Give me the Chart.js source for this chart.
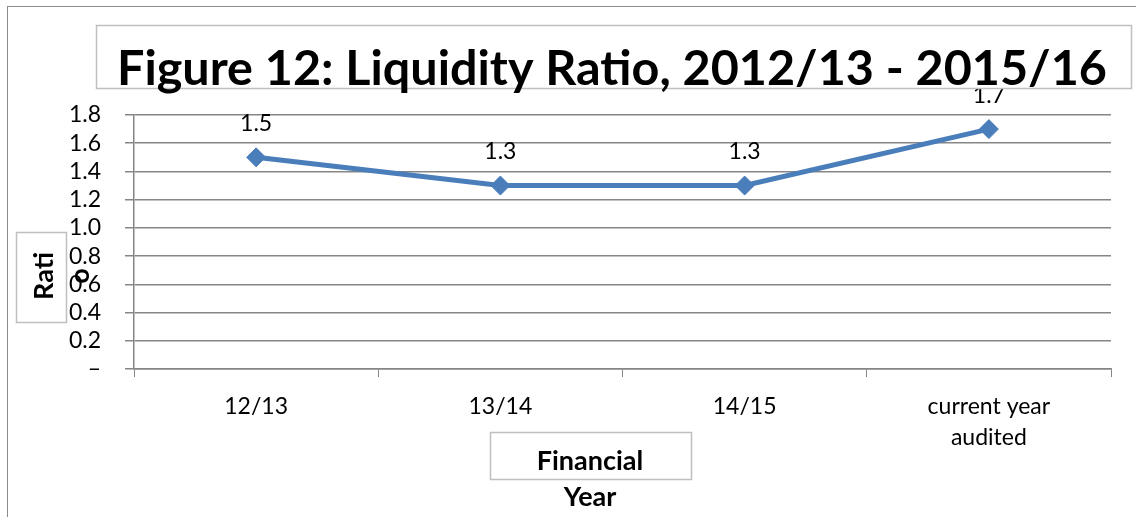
<!DOCTYPE html>
<html>
<head>
<meta charset="utf-8">
<script src="https://cdn.jsdelivr.net/npm/chart.js@4/dist/chart.umd.min.js"></script>
<style>
  html, body { margin: 0; padding: 0; background: #fff; }
  canvas { display: block; }
</style>
</head>
<body>
<canvas id="ratioChart" width="1136" height="517"></canvas>
<script>
const years = ['12/13', '13/14', '14/15', ['current year', 'audited']];
const ratios = [1.5, 1.3, 1.3, 1.7];
const chartTitle = 'Figure 12: Liquidity Ratio, 2012/13 - 2015/16';
const yTitle = ['Rati', 'o'];
const xTitle = ['Financial', 'Year'];

const FONT = 'Lato, "Open Sans", sans-serif';

// boxes, labels and the heading, drawn on top of the plot
const decorations = {
    id: 'decorations',
    afterDatasetsDraw(chart) {
        const ctx = chart.ctx;
        const x = chart.scales.x;
        const y = chart.scales.y;
        ctx.save();
        ctx.fillStyle = '#000';
        ctx.font = '23px ' + FONT;
        ctx.textAlign = 'center';
        ctx.textBaseline = 'middle';
        ratios.forEach((v, i) => {
            const px = x.getPixelForValue(i);
            const py = y.getPixelForValue(v);
            ctx.fillText(v.toFixed(1), px, py - 34);
        });
        ctx.restore();
    },
    afterDraw(chart) {
        const ctx = chart.ctx;
        ctx.save();
        // outer frame
        ctx.strokeStyle = '#8c8c8c';
        ctx.lineWidth = 1;
        ctx.strokeRect(7.5, 6.5, 1200, 600);

        // heading
        ctx.fillStyle = '#fff';
        ctx.fillRect(96, 25, 1035, 63);
        ctx.strokeStyle = '#bfbfbf';
        ctx.lineWidth = 1.5;
        ctx.strokeRect(96.5, 25.5, 1035, 63);
        ctx.fillStyle = '#000';
        ctx.font = 'bold 48.5px ' + FONT;
        ctx.textAlign = 'center';
        ctx.textBaseline = 'alphabetic';
        ctx.fillText(chartTitle, 612, 85);

        // y title
        ctx.fillStyle = '#fff';
        ctx.fillRect(16, 232, 50, 90);
        ctx.strokeRect(16.5, 232.5, 50, 90);
        ctx.fillStyle = '#000';
        ctx.font = 'bold 27px ' + FONT;
        ctx.textBaseline = 'middle';
        ctx.translate(44, 276);
        ctx.rotate(-Math.PI / 2);
        ctx.fillText(yTitle[0], 0, 0);
        ctx.fillText(yTitle[1], 0, 36);
        ctx.setTransform(1, 0, 0, 1, 0, 0);

        // x title
        ctx.fillStyle = '#fff';
        ctx.fillRect(490, 432, 201, 47);
        ctx.strokeRect(490.5, 432.5, 201, 47);
        ctx.fillStyle = '#000';
        ctx.font = 'bold 27px ' + FONT;
        ctx.fillText(xTitle[0], 590, 461);
        ctx.fillText(xTitle[1], 590, 497);
        ctx.restore();
    }
};

new Chart(document.getElementById('ratioChart'), {
    type: 'line',
    data: {
        labels: years,
        datasets: [{
            data: ratios,
            borderColor: '#4A7EBB',
            backgroundColor: '#4A7EBB',
            borderWidth: 5,
            tension: 0,
            pointStyle: 'rectRot',
            pointRadius: 9.5,
            pointBorderWidth: 1,
            pointBorderColor: '#4A7EBB',
            pointBackgroundColor: '#4A7EBB'
        }]
    },
    options: {
        responsive: false,
        animation: false,
        layout: { padding: { left: 0, top: 115, right: 25, bottom: 0 } },
        plugins: {
            legend: { display: false },
            tooltip: { enabled: false }
        },
        scales: {
            x: {
                offset: true,
                afterFit(scale) { scale.height = 148; },
                grid: {
                    offset: true,
                    drawOnChartArea: false,
                    drawTicks: true,
                    tickLength: 8,
                    color: '#868686'
                },
                border: { color: '#868686', width: 1.5 },
                ticks: {
                    color: '#000',
                    font: { family: FONT, size: 23, lineHeight: 1.35 },
                    padding: 14,
                    maxRotation: 0,
                    autoSkip: false
                }
            },
            y: {
                min: 0,
                max: 1.8,
                afterFit(scale) { scale.width = 134; },
                grid: {
                    color: '#868686',
                    lineWidth: 1.5,
                    tickLength: 9
                },
                border: { color: '#868686', width: 1.5 },
                ticks: {
                    stepSize: 0.2,
                    autoSkip: false,
                    color: '#000',
                    padding: 24,
                    font: { family: FONT, size: 23 },
                    callback: v => Math.abs(v) < 1e-9 ? '–' : v.toFixed(1)
                }
            }
        }
    },
    plugins: [decorations]
});
</script>
</body>
</html>
